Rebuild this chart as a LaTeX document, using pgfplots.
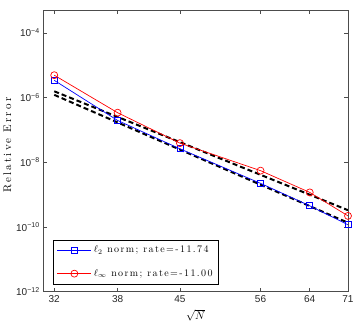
\documentclass[border=0pt]{standalone}
\usepackage{fontspec}
\usepackage{pgfplots}
\pgfplotsset{compat=1.18}
\newfontfamily\tickfont{Liberation Sans}
\newfontfamily\spaced{lmroman10-regular.otf}[LetterSpace=20]
\newfontfamily\legfont{lmroman10-regular.otf}[LetterSpace=14]
\begin{document}
\begin{tikzpicture}
\begin{axis}[
  scale only axis, width=304pt, height=281pt,
  xmode=log, ymode=log,
  xmin=31.06, xmax=71, ymin=1e-12, ymax=5.06e-4,
  xtick={32,38,45,56,64,71}, xticklabels={32,38,45,56,64,71},
  ytick={1e-12,1e-10,1e-8,1e-6,1e-4},
  yticklabels={10\textsuperscript{−12},10\textsuperscript{−10},10\textsuperscript{−8},10\textsuperscript{−6},10\textsuperscript{−4}},
  xminorticks=false, yminorticks=false,
  tick align=inside, major tick length=4pt,
  tick style={gray!60!black, line width=0.5pt},
  ticklabel style={font=\tickfont\fontsize{10}{12}\selectfont, text=black!85},
  axis line style={gray!60!black, line width=0.7pt},
  xlabel={$\sqrt{N}$},
  ylabel={\spaced Relative Error},
  label style={font=\fontsize{11}{13}\selectfont},
  ylabel style={at={(axis description cs:-0.118,0.52)}, anchor=center},
  legend style={at={(0.031,0.027)}, anchor=south west, draw=black, fill=white,
    font=\legfont\fontsize{10}{12}\selectfont, row sep=11pt, inner sep=4pt},
  legend cell align=left,
  legend image code/.code={\draw[mark repeat=2,mark phase=2] plot coordinates {(0cm,0cm) (0.6cm,0cm) (1.2cm,0cm)};},
]
\addplot[black, dashed, line width=2pt, dash pattern=on 5pt off 3pt, forget plot] coordinates {(32,1.56e-6) (71,3.3e-10)};
\addplot[black, dashed, line width=2pt, dash pattern=on 5pt off 3pt, forget plot] coordinates {(32,1.21e-6) (71,1.35e-10)};
\addplot[blue, line width=0.7pt, mark=square, mark size=3pt, mark options={solid}] coordinates {
  (32,3.4e-6) (38,1.96e-7) (45,2.6e-8) (56,2.23e-9) (64,4.5e-10) (71,1.17e-10)};
\addlegendentry{$\ell_2$ norm; rate=-11.74}
\addplot[red, line width=0.7pt, mark=o, mark size=3.5pt, mark options={solid}] coordinates {
  (32,4.9e-6) (38,3.4e-7) (45,3.9e-8) (56,5.5e-9) (64,1.17e-9) (71,2.2e-10)};
\addlegendentry{$\ell_\infty$ norm; rate=-11.00}
\end{axis}
\path ([xshift=12pt,yshift=10pt]current axis.north east);
\end{tikzpicture}
\end{document}
